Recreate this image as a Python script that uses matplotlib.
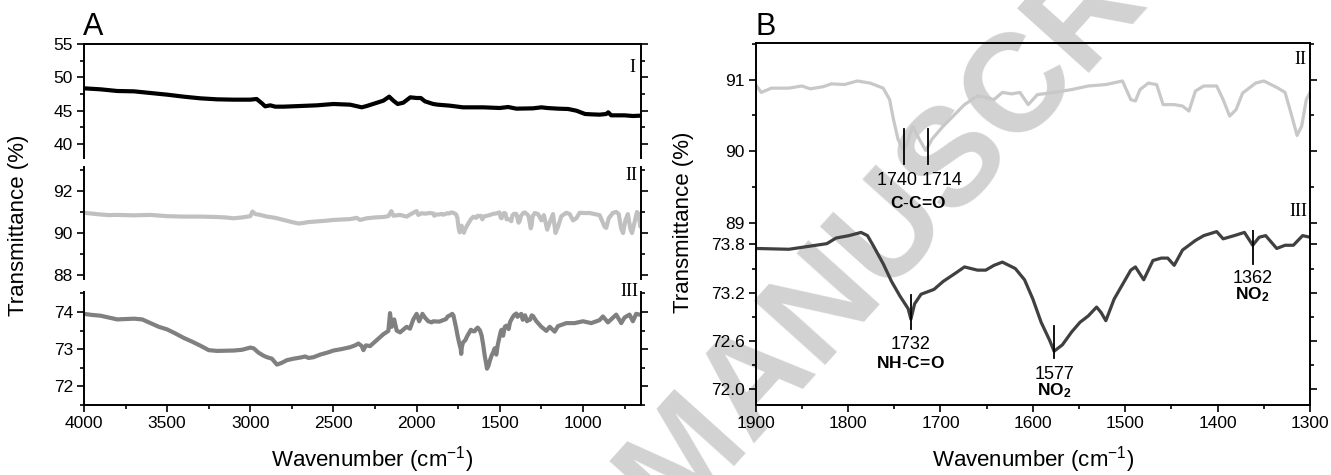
import matplotlib
matplotlib.use('Agg')
import matplotlib.pyplot as plt
from matplotlib.ticker import MultipleLocator, FormatStrFormatter

plt.rcParams['font.family'] = ['Liberation Sans', 'DejaVu Sans']
plt.rcParams['mathtext.fontset'] = 'custom'
plt.rcParams['mathtext.rm'] = 'Liberation Sans'
plt.rcParams['mathtext.bf'] = 'Liberation Sans:bold'
plt.rcParams['mathtext.it'] = 'Liberation Sans:italic'

# ---------------- data ----------------
wn_I = [4000, 3900, 3800, 3700, 3600, 3500, 3400, 3300, 3200, 3100, 3000, 2962, 2930, 2911,
        2880, 2850, 2800, 2700, 2600, 2500, 2400, 2330, 2300, 2250, 2200, 2165, 2140, 2114,
        2080, 2038, 2000, 1975, 1950, 1900, 1873, 1800, 1722, 1600, 1500, 1450, 1400, 1300,
        1250, 1215, 1150, 1089, 1040, 987, 950, 900, 860, 848, 830, 800, 750, 700, 653]
T_I = [48.35, 48.2, 47.95, 47.9, 47.65, 47.4, 47.1, 46.85, 46.7, 46.65, 46.65, 46.75, 46.1, 45.65,
       45.8, 45.6, 45.6, 45.7, 45.8, 46.0, 45.9, 45.5, 45.7, 46.1, 46.5, 47.1, 46.5, 46.0,
       46.2, 47.0, 46.9, 46.9, 46.4, 46.0, 45.9, 45.75, 45.5, 45.5, 45.4, 45.55, 45.3, 45.35,
       45.5, 45.4, 45.3, 45.25, 45.0, 44.5, 44.45, 44.4, 44.5, 44.75, 44.3, 44.3, 44.3, 44.2, 44.25]

wn_II = [4000, 3950, 3900, 3850, 3800, 3700, 3600, 3500, 3400, 3300, 3200, 3150, 3100, 3050,
         3000, 2987, 2970, 2940, 2900, 2850, 2800, 2750, 2709, 2680, 2650, 2600, 2550, 2500,
         2450, 2400, 2360, 2340, 2300, 2250, 2200, 2170, 2152, 2140, 2100, 2060, 2030, 2000,
         1990, 1970, 1950, 1920,
         1900, 1894, 1883, 1864, 1850, 1841, 1827, 1818, 1804, 1790, 1776, 1762, 1755, 1751,
         1746, 1741, 1737, 1730, 1723, 1716, 1709, 1697, 1684, 1674, 1660, 1651, 1642, 1633,
         1623, 1614, 1605, 1595, 1577, 1558, 1540, 1521, 1503, 1494, 1489, 1484, 1475, 1466,
         1459, 1447, 1438, 1431, 1424, 1415, 1401, 1394, 1387, 1380, 1373, 1359, 1350, 1336,
         1327, 1321, 1314, 1309, 1304, 1300,
         1290, 1270, 1250, 1235, 1215, 1200, 1180, 1165, 1150, 1130, 1100, 1080, 1060, 1040,
         1020, 990, 960, 930, 900, 870, 860, 845, 820, 800, 785, 770, 759, 745, 730, 715, 705,
         690, 675, 665, 655, 650]
T_II = [90.96, 90.92, 90.88, 90.85, 90.86, 90.84, 90.86, 90.80, 90.78, 90.78, 90.76, 90.74, 90.70, 90.74,
        90.80, 91.02, 90.90, 90.86, 90.78, 90.72, 90.62, 90.52, 90.45, 90.48, 90.52, 90.55, 90.58, 90.62,
        90.64, 90.66, 90.72, 90.62, 90.70, 90.74, 90.76, 90.80, 91.04, 90.82, 90.86, 90.78, 90.92, 91.04,
        90.86, 90.94, 90.92, 90.95,
        90.93, 90.82, 90.88, 90.88, 90.91, 90.87, 90.90, 90.94, 90.93, 90.98, 90.95, 90.88, 90.72, 90.45,
        90.17, 90.03, 90.08, 90.35, 90.17, 90.01, 90.17, 90.35, 90.52, 90.65, 90.77, 90.75, 90.72, 90.82,
        90.80, 90.82, 90.65, 90.79, 90.82, 90.86, 90.91, 90.93, 90.98, 90.72, 90.70, 90.86, 90.95, 90.93,
        90.65, 90.65, 90.63, 90.56, 90.84, 90.91, 90.91, 90.72, 90.49, 90.58, 90.81, 90.95, 90.98, 90.89,
        90.82, 90.55, 90.22, 90.35, 90.72, 90.82,
        90.95, 90.90, 90.60, 90.85, 90.16, 90.50, 90.90, 90.00, 90.30, 90.80, 90.96, 90.90, 90.60, 90.70,
        90.96, 90.95, 90.95, 90.90, 90.85, 90.30, 90.24, 90.70, 90.96, 91.00, 90.90, 90.20, 90.00, 90.60,
        90.90, 90.20, 90.00, 90.50, 91.00, 90.90, 90.30, 90.50]

wn_III = [4000, 3950, 3900, 3850, 3800, 3700, 3650, 3600, 3550, 3500, 3450, 3400, 3350, 3300,
          3250, 3200, 3100, 3050, 3000, 2980, 2950, 2920, 2900, 2870, 2840, 2810, 2780, 2740,
          2700, 2670, 2650, 2620, 2580, 2540, 2500, 2450, 2400, 2370, 2350, 2330, 2320, 2305,
          2280, 2250, 2200, 2170, 2160, 2150, 2135, 2120, 2100, 2060, 2040, 2020, 2000, 1985,
          1965, 1950, 1930, 1910,
          1900, 1864, 1841, 1823, 1813, 1799, 1786, 1779, 1772, 1762, 1753, 1744, 1735, 1732,
          1728, 1721, 1707, 1697, 1684, 1674, 1660, 1651, 1642, 1633, 1619, 1609, 1600, 1591,
          1582, 1577, 1568, 1558, 1549, 1540, 1531, 1526, 1521, 1512, 1503, 1494, 1489, 1480,
          1470, 1461, 1454, 1447, 1438, 1424, 1415, 1401, 1394, 1382, 1371, 1362, 1355, 1348,
          1336, 1327, 1318, 1308, 1300,
          1280, 1250, 1220, 1200, 1170, 1150, 1100, 1050, 1000, 950, 900, 880, 850, 800, 770,
          750, 720, 700, 680, 650]
T_III = [73.95, 73.92, 73.90, 73.85, 73.80, 73.82, 73.80, 73.70, 73.60, 73.53, 73.42, 73.30, 73.20, 73.09,
         72.97, 72.95, 72.96, 72.98, 73.04, 73.02, 72.90, 72.82, 72.78, 72.74, 72.58, 72.63, 72.70, 72.74,
         72.77, 72.80, 72.76, 72.78, 72.85, 72.90, 72.96, 73.00, 73.05, 73.10, 73.15, 73.08, 72.97, 73.10,
         73.08, 73.20, 73.40, 73.49, 73.97, 73.60, 73.80, 73.50, 73.45, 73.60, 73.55, 73.80, 73.95, 73.75,
         73.95, 73.85, 73.75, 73.72,
         73.75, 73.74, 73.78, 73.81, 73.88, 73.91, 73.95, 73.91, 73.77, 73.56, 73.34, 73.16, 73.00, 72.87,
         73.06, 73.18, 73.24, 73.34, 73.44, 73.52, 73.48, 73.48, 73.54, 73.58, 73.50, 73.36, 73.12, 72.83,
         72.61, 72.47, 72.55, 72.71, 72.83, 72.91, 73.02, 72.95, 72.85, 73.12, 73.30, 73.48, 73.52, 73.36,
         73.60, 73.63, 73.63, 73.54, 73.73, 73.85, 73.91, 73.96, 73.87, 73.91, 73.95, 73.79, 73.89, 73.91,
         73.75, 73.79, 73.79, 73.91, 73.89,
         73.75, 73.60, 73.49, 73.60, 73.47, 73.62, 73.70, 73.70, 73.75, 73.70, 73.78, 73.88, 73.72, 73.93, 73.70,
         73.85, 73.93, 73.75, 73.95, 73.92]

panel_A_labels = ['I', 'II', 'III']
xticks_A = [4000, 3500, 3000, 2500, 2000, 1500, 1000]
xticks_B = [1900, 1800, 1700, 1600, 1500, 1400, 1300]

# peak annotations in B
ann_II = [(1740, 89.82, 90.31), (1714, 89.82, 90.31)]
ann_III = [(1732, 72.75, 73.17, 72.55, 72.32, '1732', r'$\mathbf{NH\text{-}C\!=\!O}$'),
           (1577, 72.38, 72.78, 72.18, 71.98, '1577', r'$\mathbf{NO_2}$'),
           (1362, 73.56, 73.98, 73.38, 73.18, '1362', r'$\mathbf{NO_2}$')]

# ---------------- figure ----------------
W, H = 1331, 475
fig = plt.figure(figsize=(W / 100, H / 100), dpi=100)


def add_ax(l, t, r, b):
    return fig.add_axes([l / W, 1 - b / H, (r - l) / W, (b - t) / H])


def style(ax, top=False, bottom=False):
    ax.set_facecolor('none')
    ax.spines['top'].set_visible(top)
    ax.spines['bottom'].set_visible(bottom)
    for s in ax.spines.values():
        s.set_linewidth(1.4)
    ax.tick_params(which='both', direction='out', right=True, labelright=False,
                   left=True, width=1.2, labelsize=12.5, bottom=bottom,
                   labelbottom=bottom, top=False, labeltop=False)
    ax.tick_params(which='major', length=5, pad=3)
    ax.tick_params(which='minor', length=3)


def px(x, y):
    return x / W, 1 - y / H


# watermark (behind everything)
fig.text(*px(690, 462), 'ACCEPTED MANUSCRIPT', rotation=48, rotation_mode='anchor',
         ha='center', va='center', fontsize=100, fontweight='bold', color='#d2d2d2', zorder=-5)

XL, XR = 84, 641
ax1 = add_ax(XL, 44, XR, 158)
ax2 = add_ax(XL, 167, XR, 279)
ax3 = add_ax(XL, 292, XR, 405)

ax1.plot(wn_I, T_I, color='black', lw=3.0, solid_joinstyle='round')
ax2.plot(wn_II, T_II, color='#c0c0c0', lw=3.0, solid_joinstyle='round')
ax3.plot(wn_III, T_III, color='#808080', lw=3.0, solid_joinstyle='round')

for ax in (ax1, ax2, ax3):
    ax.set_xlim(4000, 651)
    ax.xaxis.set_major_locator(plt.FixedLocator(xticks_A))
    ax.xaxis.set_minor_locator(MultipleLocator(250))

ax1.set_ylim(37.9, 55)
ax1.set_yticks([40, 45, 50, 55])
ax1.yaxis.set_minor_locator(MultipleLocator(2.5))
ax2.set_ylim(87.81, 93.14)
ax2.set_yticks([88, 90, 92])
ax2.yaxis.set_minor_locator(MultipleLocator(1))
ax3.set_ylim(71.49, 74.54)
ax3.set_yticks([72, 73, 74])
ax3.yaxis.set_minor_locator(MultipleLocator(0.5))

style(ax1, top=True)
style(ax2)
style(ax3, bottom=True)

serif = ['Liberation Serif', 'DejaVu Serif']
fig.text(*px(632, 68), panel_A_labels[0], family=serif, fontsize=13, ha='center', va='center')
fig.text(*px(631, 175), panel_A_labels[1], family=serif, fontsize=13, ha='center', va='center')
fig.text(*px(629, 291), panel_A_labels[2], family=serif, fontsize=13, ha='center', va='center')

fig.text(*px(83, 35), 'A', fontsize=22, ha='left', va='baseline')
fig.text(*px(19, 225), 'Transmittance (%)', fontsize=16, rotation=90, ha='center', va='center')
fig.text(*px(372, 460), r'Wavenumber (cm$^{-1}$)', fontsize=16, ha='center', va='center')

# ---- panel B ----
BL, BR = 755.7, 1310
bx1 = add_ax(BL, 43, BR, 230)
bx2 = add_ax(BL, 230, BR, 405)

bx1.plot(wn_II, T_II, color='#c8c8c8', lw=2.3, solid_joinstyle='round')
bx2.plot(wn_III, T_III, color='#404040', lw=2.3, solid_joinstyle='round')

for ax in (bx1, bx2):
    ax.set_xlim(1900, 1300)
    ax.xaxis.set_major_locator(plt.FixedLocator(xticks_B))
    ax.xaxis.set_minor_locator(MultipleLocator(50))

bx1.set_ylim(88.9, 91.51)
bx1.set_yticks([89, 90, 91])
bx1.yaxis.set_minor_locator(MultipleLocator(0.5))
bx2.set_ylim(71.80, 73.98)
bx2.set_yticks([72.0, 72.6, 73.2, 73.8])
bx2.yaxis.set_minor_locator(MultipleLocator(0.3))
bx2.yaxis.set_major_formatter(FormatStrFormatter('%.1f'))

style(bx1, top=True)
style(bx2, bottom=True)

for (w, y0, y1) in ann_II:
    bx1.plot([w, w], [y0, y1], color='black', lw=1.3)
bx1.text(1723, 89.59, '1740 1714', fontsize=13, ha='center', va='center')
bx1.text(1724, 89.27, r'$\mathbf{C\text{-}C\!=\!O}$', fontsize=12.5, ha='center', va='center')

for (w, y0, y1, yn, yg, tn, tg) in ann_III:
    bx2.plot([w, w], [y0, y1], color='black', lw=1.3)
    bx2.text(w, yn, tn, fontsize=13, ha='center', va='center')
    bx2.text(w, yg, tg, fontsize=12.5, ha='center', va='center')

fig.text(*px(1300, 60), 'II', family=serif, fontsize=13, ha='center', va='center')
fig.text(*px(1298, 212), 'III', family=serif, fontsize=13, ha='center', va='center')

fig.text(*px(755, 35), 'B', fontsize=22, ha='left', va='baseline')
fig.text(*px(683, 222), 'Transmittance (%)', fontsize=16, rotation=90, ha='center', va='center')
fig.text(*px(1033, 460), r'Wavenumber (cm$^{-1}$)', fontsize=16, ha='center', va='center')

fig.savefig('out.png', dpi=100)
